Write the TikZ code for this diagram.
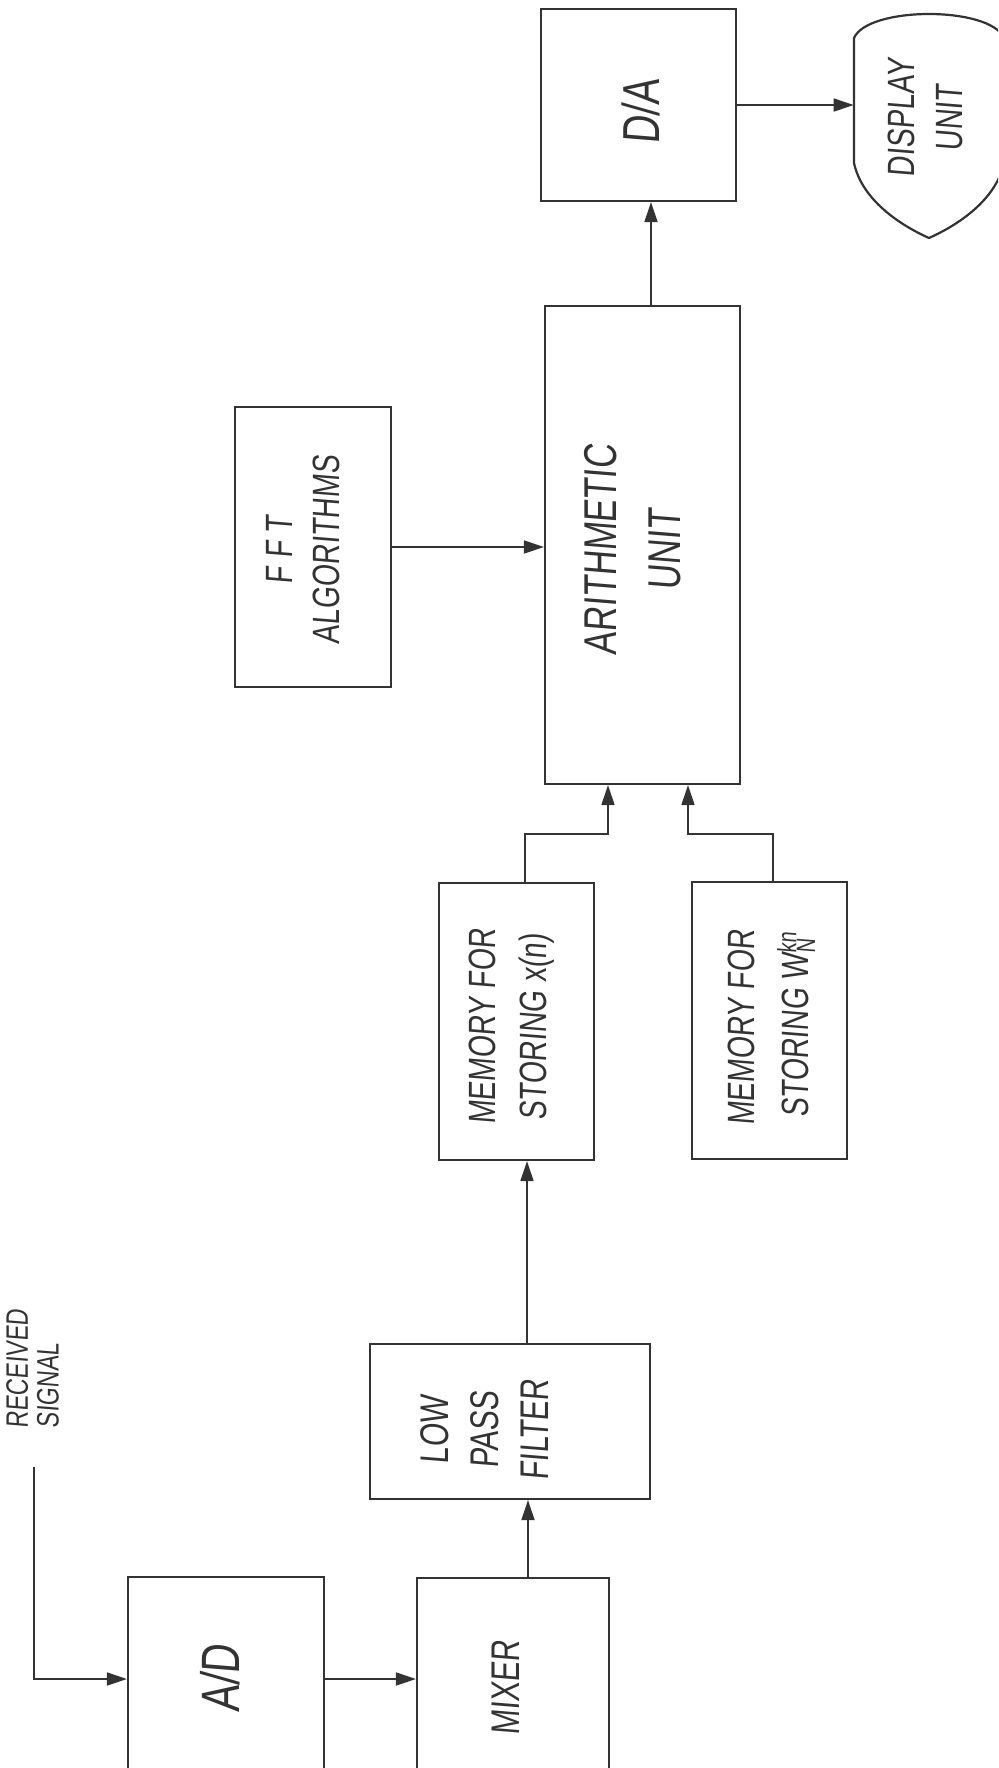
\documentclass[tikz,border=0pt]{standalone}
\usepackage{fontspec}
\newfontfamily\hand[FakeStretch=0.75,FakeSlant=0.08]{Liberation Sans}
\usetikzlibrary{arrows.meta}
\tikzset{
  box/.style={draw=black!80, line width=1.1pt, inner sep=0pt, rectangle},
  txt/.style={inner sep=0pt, text=black!80, font=\hand},
  arr/.style={draw=black!80, line width=0.9pt, -{Triangle[length=10pt,width=6.5pt]}},
}
\newcommand{\rtxt}[3]{\rotatebox{90}{\fontsize{#1}{#2}\selectfont\begin{tabular}{@{}c@{}}#3\end{tabular}}}
\newcommand{\ltxt}[3]{\rotatebox{90}{\fontsize{#1}{#2}\selectfont\begin{tabular}{@{}l@{}}#3\end{tabular}}}
\begin{document}
\begin{tikzpicture}[x=0.5pt,y=-0.5pt]
\clip (0,0) rectangle (998,1768);
\fill[white] (0,0) rectangle (998,1768);

% boxes
\node[box, minimum width=98pt, minimum height=102pt] (ad) at (226,1679) {};
\node[box, minimum width=96pt, minimum height=110pt] (mix) at (513,1688) {};
\node[box, minimum width=140pt, minimum height=77.5pt] (lpf) at (510,1421.5) {};
\node[box, minimum width=77.5pt, minimum height=138.5pt] (memx) at (516.5,1021.5) {};
\node[box, minimum width=77.5pt, minimum height=138.5pt] (memw) at (769.5,1020.5) {};
\node[box, minimum width=78pt, minimum height=140pt] (fft) at (313,547) {};
\node[box, minimum width=97.5pt, minimum height=239pt] (ar) at (642.5,545) {};
\node[box, minimum width=97.5pt, minimum height=96pt] (da) at (638.5,105) {};

% display unit shape
\draw[draw=black!80, line width=1.1pt] (854,38) .. controls (868,6) and (990,6) .. (1004,38)
  -- (1004,163) .. controls (996,200) and (958,225) .. (929,238)
  .. controls (900,225) and (862,200) .. (854,163) -- cycle;
\node[txt, minimum width=75pt] (disp) at (929,118) {\rtxt{19}{24}{DISPLAY\\UNIT}};

% texts
\node[txt] (adt) at (227,1679) {\rtxt{27}{30}{A/D}};
\node[txt] (mixt) at (509,1688) {\rtxt{20}{25}{MIXER}};
\node[txt] (lpft) at (488,1430) {\rtxt{20}{25}{LOW\\PASS\\FILTER}};
\node[txt] (memxt) at (510.5,1027) {\rtxt{19}{25.5}{MEMORY FOR\\STORING x(n)}};
\node[txt] (memwt) at (771,1028) {\rtxt{19}{27}{MEMORY FOR\\STORING W\rlap{\textsuperscript{kn}}\textsubscript{N}}};
\node[txt] (fftt) at (306.5,550) {\rtxt{19}{23.5}{F F T\\ALGORITHMS}};
\node[txt] (art) at (636,550) {\rtxt{23}{32}{ARITHMETIC\\UNIT}};
\node[txt] (dat) at (647,112) {\rtxt{26}{30}{D/A}};
\node[txt] (recv) at (37,1369) {\ltxt{15.5}{15}{RECEIVED\\SIGNAL}};

% connectors
\coordinate (rs) at (34,1467);
\draw[arr] (rs) |- (ad.west);
\draw[arr] (ad.east) -- (ad.east -| mix.west);
\draw[arr] ([xshift=7.5pt]mix.north) -- ([xshift=7.5pt]mix.north |- lpf.south);
\draw[arr] ([xshift=8.5pt]lpf.north) -- ([xshift=8.5pt]lpf.north |- memx.south);
\draw[arr] ([xshift=4.25pt]memx.north) -- ++(0,-48) -| ([xshift=-17.25pt]ar.south);
\draw[arr] ([xshift=1.75pt]memw.north) -- ++(0,-47) -| ([xshift=22.75pt]ar.south);
\draw[arr] (fft.east) -- (fft.east -| ar.west);
\draw[arr] ([xshift=4.25pt]ar.north) -- ([xshift=4.25pt]ar.north |- da.south);
\draw[arr] (da.east) -- (da.east -| disp.west);
\end{tikzpicture}
\end{document}
